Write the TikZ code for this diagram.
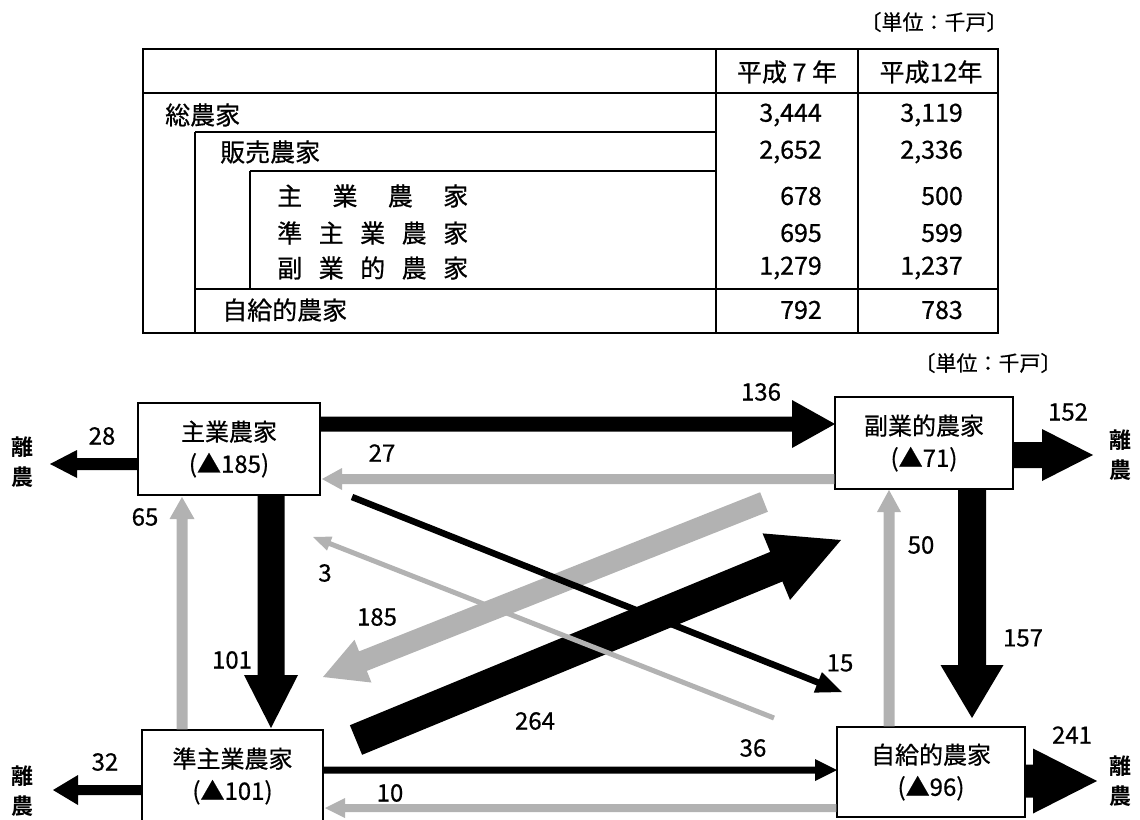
\documentclass[tikz,border=0pt]{standalone}
\usepackage{fontspec}
\setmainfont{Noto Sans CJK JP}[FakeBold=0.6, BoldFont={Noto Sans CJK JP Bold}, BoldFeatures={FakeBold=0}]
\usetikzlibrary{calc}
% #1 style, #2 start, #3 end, #4 shaft width, #5 head width, #6 head length
\newcommand\fatarrow[6]{%
  \coordinate (faS) at (#2);
  \coordinate (faE) at (#3);
  \coordinate (faH) at ($(faE)!#6!(faS)$);
  \fill[#1] ($(faS)!#4/2!90:(faE)$) -- ($(faH)!#4/2!90:(faE)$) -- ($(faH)!#5/2!90:(faE)$) -- (faE)
    -- ($(faH)!#5/2!-90:(faE)$) -- ($(faH)!#4/2!-90:(faE)$) -- ($(faS)!#4/2!-90:(faE)$) -- cycle;}
\begin{document}
\begin{tikzpicture}[x=1pt,y=-1pt,
  tline/.style={line width=1.3pt},
  touter/.style={line width=2pt},
  ttext/.style={font=\fontsize{25}{25}\selectfont, inner sep=0pt},
  unit/.style={font=\fontsize{21}{21}\selectfont, inner sep=0pt},
  box/.style={draw, line width=1.4pt, inner sep=0pt, align=center, font=\fontsize{24}{32}\selectfont},
  lbl/.style={font=\fontsize{24}{24}\selectfont, inner sep=0pt},
  rino/.style={font=\bfseries\fontsize{22}{30}\selectfont, align=center, inner sep=0pt},
  blk/.style={fill=black},
  gry/.style={fill=black!30}]
\useasboundingbox (0,0) rectangle (1140,819);

% ---------------- table ----------------
\node[unit] (unit1) at (934,22) {〔単位：千戸〕};
\draw[touter] (143,49) rectangle (998,333);
\draw[tline] (143,93) -- (998,93);
\draw[tline] (716,49) -- (716,333);
\draw[tline] (858,49) -- (858,333);
\draw[tline] (195,132) -- (716,132);
\draw[tline] (195,132) -- (195,333);
\draw[tline] (250,171) -- (716,171);
\draw[tline] (250,171) -- (250,289);
\draw[tline] (195,289) -- (998,289);

\node[ttext] (h1) at (787,72) {平成 7 年};
\node[ttext] (h2) at (931,72) {平成12年};

\node[ttext, anchor=west] (r1) at (165,115) {総農家};
\node[ttext, anchor=west] (r2) at (220,152) {販売農家};
\node[ttext, anchor=west] (r3) at (277,196) {\hbox to 191pt{主\hfill 業\hfill 農\hfill 家}};
\node[ttext, anchor=west] (r4) at (277,233) {\hbox to 191pt{準\hfill 主\hfill 業\hfill 農\hfill 家}};
\node[ttext, anchor=west] (r5) at (277,268) {\hbox to 191pt{副\hfill 業\hfill 的\hfill 農\hfill 家}};
\node[ttext, anchor=west] (r6) at (222,310) {自給的農家};

\node[ttext, anchor=east] (n1a) at (822,115) {3,444};
\node[ttext, anchor=east] (n1b) at (963,115) {3,119};
\node[ttext, anchor=east] (n2a) at (822,152) {2,652};
\node[ttext, anchor=east] (n2b) at (963,152) {2,336};
\node[ttext, anchor=east] (n3a) at (822,196) {678};
\node[ttext, anchor=east] (n3b) at (963,196) {500};
\node[ttext, anchor=east] (n4a) at (822,233) {695};
\node[ttext, anchor=east] (n4b) at (963,233) {599};
\node[ttext, anchor=east] (n5a) at (822,268) {1,279};
\node[ttext, anchor=east] (n5b) at (963,268) {1,237};
\node[ttext, anchor=east] (n6a) at (822,310) {792};
\node[ttext, anchor=east] (n6b) at (963,310) {783};

% ---------------- flow diagram ----------------
\node[unit] (unit2) at (988,363) {〔単位：千戸〕};

\node[box, minimum width=182pt, minimum height=92pt] (shugyo) at (229,449) {主業農家\\(▲185)};
\node[box, minimum width=178pt, minimum height=92pt] (fukugyo) at (924,443) {副業的農家\\(▲71)};
\node[box, minimum width=181pt, minimum height=92pt] (junshu) at (232.5,776) {準主業農家\\(▲101)};
\node[box, minimum width=188pt, minimum height=90pt] (jikyu) at (931,772) {自給的農家\\(▲96)};

\node[rino] (rinoTL) at (23,462) {離\\農};
\node[rino] (rinoTR) at (1120,455) {離\\農};
\node[rino] (rinoBL) at (23,791) {離\\農};
\node[rino] (rinoBR) at (1120,781) {離\\農};

% named end points
\coordinate (t136) at (835,424);
\coordinate (t28) at (50,464);
\coordinate (t152) at (1093,455);
\coordinate (t101) at (271,728);
\coordinate (t157) at (972,718);
\coordinate (t32) at (53,790);
\coordinate (t36) at (837,770);
\coordinate (t241) at (1097,781);
\coordinate (s264) at (356,740);
\coordinate (t264) at (841,540);
\coordinate (s15) at (352,497);
\coordinate (t15) at (842,692);
\coordinate (t27) at (322,479);
\coordinate (t65) at (182,497);
\coordinate (t50) at (889,490);
\coordinate (t10) at (325,808);
\coordinate (s3) at (774,718);
\coordinate (t3) at (313,537);
\coordinate (s185) at (764,502);
\coordinate (t185) at (323,677);

% gray arrows
\fatarrow{gry}{fukugyo.west |- t27}{t27}{10pt}{22pt}{20pt}
\fatarrow{gry}{junshu.north -| t65}{t65}{11pt}{25pt}{22pt}
\fatarrow{gry}{jikyu.north -| t50}{t50}{11pt}{24pt}{22pt}
\fatarrow{gry}{jikyu.west |- t10}{t10}{8pt}{20pt}{20pt}
\fatarrow{gry}{s185}{t185}{21pt}{46pt}{43pt}

% black arrows
\fatarrow{blk}{shugyo.east |- t136}{t136}{15pt}{48pt}{43pt}
\fatarrow{blk}{shugyo.west |- t28}{t28}{12pt}{28pt}{27pt}
\fatarrow{blk}{fukugyo.east |- t152}{t152}{26pt}{52pt}{51pt}
\fatarrow{blk}{shugyo.south -| t101}{t101}{27pt}{54pt}{53pt}
\fatarrow{blk}{fukugyo.south -| t157}{t157}{28pt}{63pt}{53pt}
\fatarrow{blk}{junshu.west |- t32}{t32}{10pt}{30pt}{25pt}
\fatarrow{blk}{junshu.east |- t36}{t36}{7pt}{22pt}{22pt}
\fatarrow{blk}{jikyu.east |- t241}{t241}{33pt}{65pt}{64pt}
\fatarrow{blk}{s264}{t264}{32pt}{72pt}{70pt}
\fatarrow{blk}{s15}{t15}{6.5pt}{22pt}{26pt}

\fatarrow{gry}{s3}{t3}{5pt}{15pt}{18pt}

% labels
\node[lbl] (l28) at (102,436) {28};
\node[lbl] (l27) at (382,453) {27};
\node[lbl] (l136) at (761,392) {136};
\node[lbl] (l152) at (1068,412) {152};
\node[lbl] (l65) at (145,517) {65};
\node[lbl] (l3) at (325,573) {3};
\node[lbl] (l185) at (377,617) {185};
\node[lbl] (l101) at (232,660) {101};
\node[lbl] (l50) at (921,545) {50};
\node[lbl] (l157) at (1023,638) {157};
\node[lbl] (l15) at (840,663) {15};
\node[lbl] (l264) at (535,721) {264};
\node[lbl] (l36) at (753,748) {36};
\node[lbl] (l241) at (1072,735) {241};
\node[lbl] (l32) at (105,762) {32};
\node[lbl] (l10) at (390,793) {10};
\end{tikzpicture}
\end{document}
